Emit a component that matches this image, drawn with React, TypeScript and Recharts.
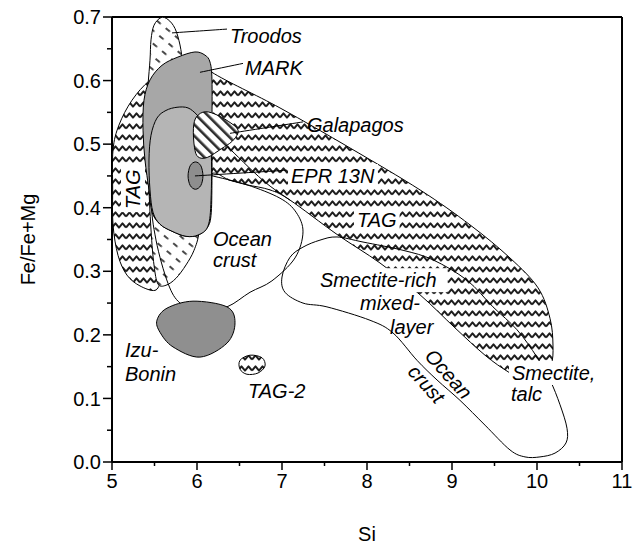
import React, { useLayoutEffect, useRef, useState } from "react";
import { ScatterChart, Scatter, XAxis, YAxis, ReferenceLine } from "recharts";

type Pt = { x: number; y: number };

// Field outlines, Si (x) vs Fe/Fe+Mg (y)
const tagField: Pt[] = [
  { x: 5.506, y: 0.27 }, { x: 5.329, y: 0.277 }, { x: 5.176, y: 0.294 }, { x: 5.071, y: 0.325 },
  { x: 5.012, y: 0.373 }, { x: 5.008, y: 0.428 }, { x: 5.012, y: 0.491 }, { x: 5.082, y: 0.53 },
  { x: 5.235, y: 0.569 }, { x: 5.447, y: 0.601 }, { x: 5.741, y: 0.629 }, { x: 6.035, y: 0.638 },
  { x: 6.176, y: 0.613 }, { x: 6.976, y: 0.557 }, { x: 7.8, y: 0.494 }, { x: 8.624, y: 0.428 },
  { x: 9.212, y: 0.373 }, { x: 9.682, y: 0.321 }, { x: 10.012, y: 0.274 }, { x: 10.153, y: 0.226 },
  { x: 10.188, y: 0.184 }, { x: 10.165, y: 0.153 }, { x: 10.035, y: 0.137 }, { x: 9.824, y: 0.132 },
  { x: 9.659, y: 0.142 }, { x: 9.388, y: 0.168 }, { x: 9.035, y: 0.211 }, { x: 8.624, y: 0.263 },
  { x: 8.153, y: 0.313 }, { x: 7.647, y: 0.358 }, { x: 7.094, y: 0.412 }, { x: 6.859, y: 0.428 },
  { x: 6.588, y: 0.436 }, { x: 6.388, y: 0.443 }, { x: 6.153, y: 0.451 }, { x: 6.035, y: 0.381 },
  { x: 5.565, y: 0.357 }, { x: 5.529, y: 0.314 }, { x: 5.565, y: 0.286 },
];

const troodos: Pt[] = [
  { x: 5.576, y: 0.699 }, { x: 5.659, y: 0.696 }, { x: 5.741, y: 0.682 }, { x: 5.8, y: 0.656 },
  { x: 5.835, y: 0.624 }, { x: 5.871, y: 0.585 }, { x: 5.976, y: 0.491 }, { x: 6.035, y: 0.412 },
  { x: 6.024, y: 0.362 }, { x: 5.965, y: 0.333 }, { x: 5.871, y: 0.31 }, { x: 5.753, y: 0.289 },
  { x: 5.635, y: 0.278 }, { x: 5.541, y: 0.28 }, { x: 5.494, y: 0.31 }, { x: 5.459, y: 0.365 },
  { x: 5.424, y: 0.459 }, { x: 5.4, y: 0.538 }, { x: 5.424, y: 0.593 }, { x: 5.447, y: 0.632 },
  { x: 5.459, y: 0.664 }, { x: 5.494, y: 0.687 },
];

const markOuter: Pt[] = [
  { x: 5.976, y: 0.645 }, { x: 6.094, y: 0.64 }, { x: 6.153, y: 0.629 }, { x: 6.176, y: 0.601 },
  { x: 6.176, y: 0.522 }, { x: 6.176, y: 0.443 }, { x: 6.165, y: 0.388 }, { x: 6.118, y: 0.368 },
  { x: 6.012, y: 0.357 }, { x: 5.871, y: 0.355 }, { x: 5.706, y: 0.363 }, { x: 5.565, y: 0.374 },
  { x: 5.471, y: 0.393 }, { x: 5.435, y: 0.428 }, { x: 5.388, y: 0.475 }, { x: 5.365, y: 0.522 },
  { x: 5.376, y: 0.569 }, { x: 5.447, y: 0.601 }, { x: 5.588, y: 0.624 }, { x: 5.776, y: 0.637 },
];

const markInner: Pt[] = [
  { x: 5.765, y: 0.558 }, { x: 5.894, y: 0.557 }, { x: 6.0, y: 0.546 }, { x: 6.094, y: 0.53 },
  { x: 6.165, y: 0.491 }, { x: 6.165, y: 0.412 }, { x: 6.129, y: 0.371 }, { x: 6.012, y: 0.357 },
  { x: 5.871, y: 0.355 }, { x: 5.706, y: 0.363 }, { x: 5.565, y: 0.374 }, { x: 5.482, y: 0.393 },
  { x: 5.447, y: 0.428 }, { x: 5.435, y: 0.475 }, { x: 5.459, y: 0.514 }, { x: 5.529, y: 0.541 },
  { x: 5.635, y: 0.553 },
];

const galapagos: Pt[] = [
  { x: 5.994, y: 0.543 }, { x: 6.1, y: 0.551 }, { x: 6.25, y: 0.545 }, { x: 6.4, y: 0.533 },
  { x: 6.475, y: 0.524 }, { x: 6.478, y: 0.516 }, { x: 6.41, y: 0.504 }, { x: 6.29, y: 0.493 },
  { x: 6.12, y: 0.479 }, { x: 6.012, y: 0.48 }, { x: 5.97, y: 0.495 }, { x: 5.958, y: 0.525 },
];

const epr13n: Pt[] = [
  { x: 5.982, y: 0.472 }, { x: 6.045, y: 0.466 }, { x: 6.07, y: 0.45 }, { x: 6.045, y: 0.435 },
  { x: 5.982, y: 0.429 }, { x: 5.92, y: 0.435 }, { x: 5.895, y: 0.45 }, { x: 5.92, y: 0.466 },
];

const oceanCrustLeft: Pt[] = [
  { x: 5.8, y: 0.25 }, { x: 5.659, y: 0.281 }, { x: 5.518, y: 0.349 }, { x: 5.471, y: 0.412 },
  { x: 5.624, y: 0.451 }, { x: 5.918, y: 0.459 }, { x: 6.153, y: 0.451 }, { x: 6.588, y: 0.436 },
  { x: 6.976, y: 0.415 }, { x: 7.165, y: 0.393 }, { x: 7.247, y: 0.362 }, { x: 7.153, y: 0.321 },
  { x: 6.882, y: 0.285 }, { x: 6.624, y: 0.267 }, { x: 6.353, y: 0.244 }, { x: 6.035, y: 0.236 },
];

// lower edge of the TAG band running out from under Galapagos
const tagLowerEdge: Pt[] = [
  { x: 6.36, y: 0.496 }, { x: 6.776, y: 0.443 }, { x: 7.094, y: 0.412 },
];

const smectiteField: Pt[] = [
  { x: 7.247, y: 0.338 }, { x: 7.447, y: 0.349 }, { x: 7.647, y: 0.354 }, { x: 7.953, y: 0.346 },
  { x: 8.424, y: 0.333 }, { x: 8.776, y: 0.318 }, { x: 9.176, y: 0.286 }, { x: 9.482, y: 0.244 },
  { x: 9.765, y: 0.208 }, { x: 10.0, y: 0.165 }, { x: 10.153, y: 0.129 }, { x: 10.271, y: 0.09 },
  { x: 10.353, y: 0.053 }, { x: 10.341, y: 0.03 }, { x: 10.212, y: 0.014 }, { x: 10.035, y: 0.008 },
  { x: 9.859, y: 0.008 }, { x: 9.682, y: 0.019 }, { x: 9.388, y: 0.058 }, { x: 9.094, y: 0.097 },
  { x: 8.824, y: 0.129 }, { x: 8.588, y: 0.16 }, { x: 8.306, y: 0.203 }, { x: 8.035, y: 0.223 },
  { x: 7.529, y: 0.244 }, { x: 7.247, y: 0.25 }, { x: 7.035, y: 0.267 }, { x: 7.0, y: 0.291 },
  { x: 7.094, y: 0.322 },
];

const izuBonin: Pt[] = [
  { x: 5.529, y: 0.223 }, { x: 5.647, y: 0.242 }, { x: 5.953, y: 0.253 }, { x: 6.353, y: 0.244 },
  { x: 6.447, y: 0.219 }, { x: 6.353, y: 0.187 }, { x: 6.035, y: 0.165 }, { x: 5.718, y: 0.181 },
  { x: 5.565, y: 0.204 },
];

const tag2: Pt[] = [
  { x: 6.506, y: 0.16 }, { x: 6.624, y: 0.168 }, { x: 6.765, y: 0.164 }, { x: 6.8, y: 0.151 },
  { x: 6.718, y: 0.14 }, { x: 6.588, y: 0.138 }, { x: 6.506, y: 0.146 },
];

// leader lines from fields to their names
const leaderTroodos: Pt[] = [{ x: 5.706, y: 0.675 }, { x: 6.353, y: 0.681 }];
const leaderMark: Pt[] = [{ x: 6.035, y: 0.613 }, { x: 6.541, y: 0.627 }];
const leaderGalapagos: Pt[] = [{ x: 6.388, y: 0.517 }, { x: 7.247, y: 0.535 }];
const leaderEpr: Pt[] = [{ x: 5.976, y: 0.45 }, { x: 7.059, y: 0.459 }];

const xTicks = [5, 5.5, 6, 6.5, 7, 7.5, 8, 8.5, 9, 9.5, 10, 10.5, 11];
const yTicks = [0, 0.05, 0.1, 0.15, 0.2, 0.25, 0.3, 0.35, 0.4, 0.45, 0.5, 0.55, 0.6, 0.65, 0.7];

type Lbl = { id: string; text: string; x: number; y: number };

const fieldLabels: Lbl[] = [
  { id: "troodos", text: "Troodos", x: 6.388, y: 0.659 },
  { id: "mark", text: "MARK", x: 6.565, y: 0.608 },
  { id: "galapagos", text: "Galapagos", x: 7.294, y: 0.519 },
  { id: "epr", text: "EPR 13N", x: 7.106, y: 0.439 },
  { id: "tagBand", text: "TAG", x: 7.882, y: 0.369 },
  { id: "tagLobe", text: "TAG", x: 5.247, y: 0.429 },
  { id: "oceanL", text: "Ocean", x: 6.188, y: 0.34 },
  { id: "crustL", text: "crust", x: 6.188, y: 0.307 },
  { id: "smecRich", text: "Smectite-rich", x: 7.447, y: 0.275 },
  { id: "mixed", text: "mixed-", x: 7.918, y: 0.239 },
  { id: "layer", text: "layer", x: 8.271, y: 0.201 },
  { id: "oceanR", text: "Ocean", x: 8.729, y: 0.173 },
  { id: "crustR", text: "crust", x: 8.529, y: 0.148 },
  { id: "smecTalc", text: "Smectite,", x: 9.706, y: 0.129 },
  { id: "talc", text: "talc", x: 9.694, y: 0.096 },
  { id: "izu", text: "Izu-", x: 5.153, y: 0.165 },
  { id: "bonin", text: "Bonin", x: 5.153, y: 0.127 },
  { id: "tag2", text: "TAG-2", x: 6.6, y: 0.101 },
];

const labelLook: Record<string, { angle?: number; anchor?: string; central?: boolean; padR?: number }> = {
  tagLobe: { angle: -90, anchor: "middle", central: true },
  oceanR: { angle: 48, central: true },
  crustR: { angle: 48, central: true },
  smecRich: { padR: 11 },
};

const boxedEarly = ["epr", "tagBand", "tagLobe", "smecRich"];
const boxedLate = ["smecTalc"];

function smoothPath(pts: Pt[], closed: boolean) {
  const n = pts.length;
  const get = (i: number) => (closed ? pts[(i + n) % n] : pts[Math.max(0, Math.min(n - 1, i))]);
  let d = `M${pts[0].x},${pts[0].y}`;
  const segs = closed ? n : n - 1;
  for (let i = 0; i < segs; i++) {
    const p0 = get(i - 1), p1 = get(i), p2 = get(i + 1), p3 = get(i + 2);
    const c1x = p1.x + (p2.x - p0.x) / 6, c1y = p1.y + (p2.y - p0.y) / 6;
    const c2x = p2.x - (p3.x - p1.x) / 6, c2y = p2.y - (p3.y - p1.y) / 6;
    d += ` C${c1x},${c1y} ${c2x},${c2y} ${p2.x},${p2.y}`;
  }
  return closed ? d + " Z" : d;
}

// custom Scatter line: smooth outline through the scaled points
const Outline = ({ points, paint, ink, closed, weight }: any) => {
  if (!points || points.length < 2) return null;
  return (
    <path
      d={smoothPath(points, !!closed)}
      fill={paint || "none"}
      stroke={ink || "#000"}
      strokeWidth={weight || 1}
      strokeLinejoin="round"
    />
  );
};

const noMark = () => <g />;

const LabelMark = ({ cx, cy, payload, bg }: any) => {
  const look = labelLook[payload.id] || {};
  const ref = useRef<SVGTextElement>(null);
  const [box, setBox] = useState<DOMRect | null>(null);
  useLayoutEffect(() => {
    if (bg && ref.current) setBox(ref.current.getBBox());
  }, [bg, cx, cy]);
  const transform = look.angle ? `rotate(${look.angle} ${cx} ${cy})` : undefined;
  const txt = (
    <text
      ref={ref}
      x={cx}
      y={cy}
      textAnchor={look.anchor || "start"}
      dominantBaseline={look.central ? "central" : "alphabetic"}
      transform={transform}
      fontSize={20}
      fontStyle="italic"
      fill="#000"
      visibility={bg ? "hidden" : undefined}
    >
      {payload.text}
    </text>
  );
  if (!bg) return txt;
  const pad = 3;
  return (
    <g>
      {txt}
      {box && (
        <rect
          x={box.x - pad}
          y={box.y - 1}
          width={box.width + pad + (look.padR || pad)}
          height={box.height + 2}
          fill="#fff"
          transform={transform}
        />
      )}
    </g>
  );
};

const isTenth = (v: number) => Math.abs(v * 10 - Math.round(v * 10)) < 1e-6;

const XTick = ({ x, y, payload }: any) => {
  const v = payload.value;
  const major = Number.isInteger(v);
  return (
    <g>
      <line x1={x} x2={x} y1={y} y2={y + (major ? 8 : 4)} stroke="#000" strokeWidth={1.5} />
      {major && (
        <text x={x} y={y + 26} textAnchor="middle" fontSize={20} fill="#000">
          {v}
        </text>
      )}
    </g>
  );
};

const YTick = ({ x, y, payload }: any) => {
  const v = payload.value;
  const major = isTenth(v);
  return (
    <g>
      <line x1={x - (major ? 9 : 5)} x2={x} y1={y} y2={y} stroke="#000" strokeWidth={1.5} />
      {major && (
        <text x={x - 11} y={y} dy="0.36em" textAnchor="end" fontSize={20} fill="#000">
          {v.toFixed(1)}
        </text>
      )}
    </g>
  );
};

const yTitle = (props: any) => {
  const vb = props.viewBox || { x: 0, y: 17, width: 112, height: 445 };
  const cx = vb.x + 28;
  const cy = vb.y + vb.height / 2;
  return (
    <text x={cx} y={cy} transform={`rotate(-90 ${cx} ${cy})`} textAnchor="middle" dominantBaseline="central" fontSize={20} fill="#000">
      Fe/Fe+Mg
    </text>
  );
};

const xTitle = (props: any) => {
  const vb = props.viewBox || { x: 112, y: 462, width: 510, height: 86 };
  return (
    <text x={vb.x + vb.width / 2} y={vb.y + 79} textAnchor="middle" fontSize={20} fill="#000">
      Si
    </text>
  );
};

const field = (data: Pt[], paint: string, key: string, weight = 1) => (
  <Scatter
    key={key}
    data={data}
    isAnimationActive={false}
    shape={noMark}
    line={<Outline paint={paint} ink="#000" closed weight={weight} />}
  />
);

const outline = (data: Pt[], key: string, closed = true) => (
  <Scatter
    key={key}
    data={data}
    isAnimationActive={false}
    shape={noMark}
    line={<Outline paint="none" ink="#000" closed={closed} weight={1} />}
  />
);

export default function App() {
  return (
    <div style={{ position: "absolute", left: 0, top: 0, width: 640, height: 548, background: "#fff", fontFamily: '"Liberation Sans", Arial, sans-serif' }}>
      <ScatterChart width={640} height={548} margin={{ top: 17, right: 18, bottom: 0, left: 0 }}>
        <defs>
          <pattern id="waves" width="14" height="11" patternUnits="userSpaceOnUse">
            <rect width="14" height="11" fill="#fff" />
            <path d="M0,7.6 L3.5,3.4 L7,7.6 L10.5,3.4 L14,7.6" fill="none" stroke="#1e1e1e" strokeWidth="2" strokeLinejoin="round" />
          </pattern>
          <pattern id="dashes" width="12" height="10" patternUnits="userSpaceOnUse" patternTransform="rotate(40)">
            <rect width="12" height="10" fill="#fff" />
            <line x1="1" y1="5" x2="6.5" y2="5" stroke="#4a4a4a" strokeWidth="2" />
          </pattern>
          <pattern id="stripes" width="8" height="8" patternUnits="userSpaceOnUse" patternTransform="rotate(-45)">
            <rect width="8" height="8" fill="#fff" />
            <rect x="0" y="0" width="2.6" height="8" fill="#2e2e2e" />
          </pattern>
        </defs>
        <XAxis
          type="number"
          dataKey="x"
          domain={[5, 11]}
          ticks={xTicks}
          interval={0}
          allowDataOverflow
          height={86}
          tickSize={0}
          tickMargin={0}
          tickLine={false}
          tick={XTick}
          axisLine={{ stroke: "#000", strokeWidth: 2 }}
          label={xTitle}
        />
        <YAxis
          type="number"
          dataKey="y"
          domain={[0, 0.7]}
          ticks={yTicks}
          interval={0}
          allowDataOverflow
          width={112}
          tickSize={0}
          tickMargin={0}
          tickLine={false}
          tick={YTick}
          axisLine={{ stroke: "#000", strokeWidth: 2 }}
          label={yTitle}
        />
        <ReferenceLine y={0.7} stroke="#000" strokeWidth={2} />
        <ReferenceLine x={11} stroke="#000" strokeWidth={2} />

        {field(tagField, "url(#waves)", "tag")}
        {field(troodos, "url(#dashes)", "troodos")}
        <Scatter
          data={fieldLabels.filter((l) => boxedEarly.includes(l.id))}
          isAnimationActive={false}
          shape={(p: any) => <LabelMark {...p} bg />}
        />
        {outline(oceanCrustLeft, "oceanLeft")}
        {outline(tagLowerEdge, "tagEdge", false)}
        {outline(smectiteField, "smectite")}
        <Scatter
          data={fieldLabels.filter((l) => boxedLate.includes(l.id))}
          isAnimationActive={false}
          shape={(p: any) => <LabelMark {...p} bg />}
        />
        {field(markOuter, "#a7a7a7", "markOuter")}
        {field(markInner, "#b5b5b5", "markInner")}
        {field(galapagos, "url(#stripes)", "galapagos")}
        {field(epr13n, "#8e8e8e", "epr")}
        {field(izuBonin, "#8f8f8f", "izu")}
        {field(tag2, "url(#waves)", "tag2")}
        {outline(leaderTroodos, "lt", false)}
        {outline(leaderMark, "lm", false)}
        {outline(leaderGalapagos, "lg", false)}
        {outline(leaderEpr, "le", false)}
        <Scatter data={fieldLabels} isAnimationActive={false} shape={(p: any) => <LabelMark {...p} />} />
      </ScatterChart>
    </div>
  );
}
